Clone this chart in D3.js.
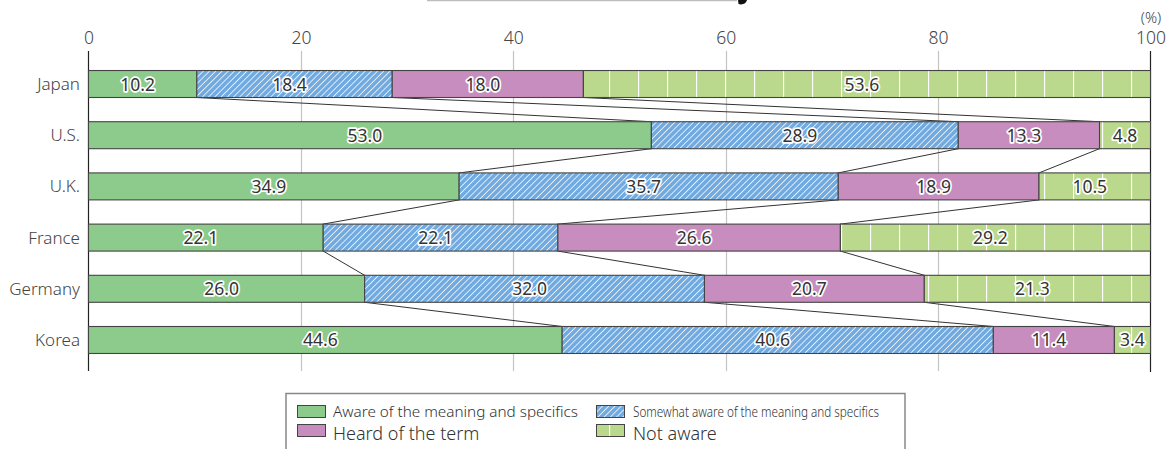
<!DOCTYPE html>
<html>
<head>
<meta charset="utf-8">
<script src="https://cdn.jsdelivr.net/npm/d3@7"></script>
<style>
  html, body { margin: 0; padding: 0; background: #fff; }
  svg { display: block; font-family: "Noto Sans", Lato, sans-serif; font-weight: 300; }
</style>
</head>
<body>
<svg id="chart" width="1172" height="449"></svg>
<script>
// Awareness survey: share of respondents per country (%)
const countries = ["Japan", "U.S.", "U.K.", "France", "Germany", "Korea"];
const seriesNames = [
  "Aware of the meaning and specifics",
  "Somewhat aware of the meaning and specifics",
  "Heard of the term",
  "Not aware"
];
const aware         = [10.2, 53.0, 34.9, 22.1, 26.0, 44.6];
const somewhatAware = [18.4, 28.9, 35.7, 22.1, 32.0, 40.6];
const heardOfTerm   = [18.0, 13.3, 18.9, 26.6, 20.7, 11.4];
const notAware      = [53.6, 4.8, 10.5, 29.2, 21.3, 3.4];
const tickValues = [0, 20, 40, 60, 80, 100];

const rows = countries.map((c, i) => ({
  country: c,
  values: [aware[i], somewhatAware[i], heardOfTerm[i], notAware[i]]
}));

const svg = d3.select("#chart");
const defs = svg.append("defs");

// diagonal white hatch over blue
const hatch = defs.append("pattern")
  .attr("id", "hatch").attr("patternUnits", "userSpaceOnUse")
  .attr("width", 4.4).attr("height", 4.4)
  .attr("patternTransform", "rotate(45)");
hatch.append("rect").attr("width", 4.4).attr("height", 4.4).attr("fill", "#70aae0");
hatch.append("line").attr("x1", 0).attr("y1", 0).attr("x2", 0).attr("y2", 4.4)
  .attr("stroke", "#ffffff").attr("stroke-width", 1.5);

// light green with evenly spaced white vertical lines
const vlines = defs.append("pattern")
  .attr("id", "vlines").attr("patternUnits", "userSpaceOnUse")
  .attr("width", 29).attr("height", 10);
vlines.append("rect").attr("width", 29).attr("height", 10).attr("fill", "#bad98c");
vlines.append("line").attr("x1", 0.5).attr("y1", 0).attr("x2", 0.5).attr("y2", 10)
  .attr("stroke", "#ffffff").attr("stroke-width", 1.3);

const fills = ["#8ccb8b", "url(#hatch)", "#c78dbf", "url(#vlines)"];

const x = d3.scaleLinear().domain([0, 100]).range([88.5, 1150.5]).clamp(true);
const y = d3.scaleBand().domain(countries).range([52.5, 371.5])
  .paddingInner(0.473).paddingOuter(0.352);

const axisTop = 51, axisBottom = 371;

// clipped heading rule at the very top, with the tail of its last glyph
svg.append("line").attr("x1", 427).attr("x2", 737).attr("y1", 0.5).attr("y2", 0.5)
  .attr("stroke", "#bdbdbd").attr("stroke-width", 1.5);
svg.append("path").attr("d", "M738,0 L747,0 Q746,4 741,4.5 L738.5,4 Z").attr("fill", "#111");

// gridlines
svg.append("g").selectAll("line")
  .data(tickValues.filter(v => v > 0 && v < 100))
  .join("line")
  .attr("x1", d => Math.round(x(d)) + 0.5).attr("x2", d => Math.round(x(d)) + 0.5)
  .attr("y1", axisTop).attr("y2", axisBottom)
  .attr("stroke", "#c4c4c4").attr("stroke-width", 1.2);

// top axis labels
const axis = d3.axisTop(x).tickValues(tickValues).tickSize(0).tickPadding(0);
const gAxis = svg.append("g").attr("transform", "translate(0,44)").call(axis);
gAxis.select(".domain").remove();
gAxis.selectAll("text").attr("font-size", 17.5).attr("fill", "#444")
  .attr("font-family", "'Noto Sans', Lato, sans-serif").attr("font-weight", 300);

svg.append("text").attr("x", x(100) + 0.5).attr("y", 23).attr("text-anchor", "middle")
  .attr("font-size", 15).attr("fill", "#444").text("(%)");

// left and right frame lines
svg.append("line").attr("x1", 88.5).attr("x2", 88.5).attr("y1", axisTop).attr("y2", axisBottom)
  .attr("stroke", "#222").attr("stroke-width", 1.2);
svg.append("line").attr("x1", 1150.5).attr("x2", 1150.5).attr("y1", axisTop).attr("y2", axisBottom + 1)
  .attr("stroke", "#222").attr("stroke-width", 1.2);

// stacked segments
const stacked = rows.map(r => {
  let acc = 0;
  return r.values.map((v, k) => {
    const seg = { country: r.country, k, v, x0: acc, x1: acc + v };
    acc += v;
    return seg;
  });
});

// connectors between consecutive bars at each cumulative boundary
const connectors = [];
for (let i = 0; i < stacked.length - 1; i++) {
  for (let k = 0; k < 3; k++) {
    connectors.push({
      xa: stacked[i][k].x1, ya: y(countries[i]) + y.bandwidth(),
      xb: stacked[i + 1][k].x1, yb: y(countries[i + 1])
    });
  }
}
svg.append("g").selectAll("line").data(connectors).join("line")
  .attr("x1", d => x(d.xa)).attr("y1", d => d.ya)
  .attr("x2", d => x(d.xb)).attr("y2", d => d.yb)
  .attr("stroke", "#333").attr("stroke-width", 1);

const bars = svg.append("g");
stacked.forEach(segs => {
  bars.selectAll(null).data(segs).join("rect")
    .attr("x", d => x(d.x0)).attr("y", d => y(d.country))
    .attr("width", d => x(d.x1) - x(d.x0)).attr("height", y.bandwidth())
    .attr("fill", d => fills[d.k])
    .attr("stroke", "#444").attr("stroke-width", 1.1);
});

// value labels
const labels = svg.append("g");
stacked.forEach(segs => {
  labels.selectAll(null).data(segs).join("text")
    .attr("x", d => {
      const w = x(d.x1) - x(d.x0);
      return (x(d.x0) + x(d.x1)) / 2 - (w > 60 ? 5 : 0);
    })
    .attr("y", d => y(d.country) + y.bandwidth() / 2 + 6.5)
    .attr("text-anchor", "middle")
    .attr("font-size", 17.5)
    .attr("font-weight", 400)
    .attr("fill", "#333")
    .attr("stroke", "#fff").attr("stroke-width", 3.4)
    .attr("stroke-linejoin", "round")
    .attr("paint-order", "stroke")
    .text(d => d.v.toFixed(1));
});

// country labels
svg.append("g").selectAll("text").data(countries).join("text")
  .attr("x", 80).attr("y", d => y(d) + y.bandwidth() / 2 + 6)
  .attr("text-anchor", "end").attr("font-size", 17).attr("fill", "#444")
  .text(d => d);

// legend
const legend = svg.append("g");
legend.append("rect").attr("x", 286).attr("y", 393.5).attr("width", 619).attr("height", 80)
  .attr("fill", "none").attr("stroke", "#888").attr("stroke-width", 1.5);
const legendItems = [
  { k: 0, sx: 297, sy: 405, tx: 333, ty: 417, size: 14, len: 245 },
  { k: 1, sx: 596, sy: 405, tx: 633, ty: 417, size: 14, len: 246 },
  { k: 2, sx: 297, sy: 424, tx: 333, ty: 440, size: 18, len: null },
  { k: 3, sx: 596, sy: 424, tx: 633, ty: 440, size: 18, len: null }
];
legendItems.forEach(it => {
  legend.append("rect").attr("x", it.sx + 0.5).attr("y", it.sy + 0.5)
    .attr("width", 28).attr("height", 12)
    .attr("fill", fills[it.k]).attr("stroke", "#444").attr("stroke-width", 1);
  const t = legend.append("text").attr("x", it.tx).attr("y", it.ty)
    .attr("font-size", it.size).attr("fill", "#333").text(seriesNames[it.k]);
  if (it.len) t.attr("textLength", it.len).attr("lengthAdjust", "spacingAndGlyphs");
});
</script>
</body>
</html>
